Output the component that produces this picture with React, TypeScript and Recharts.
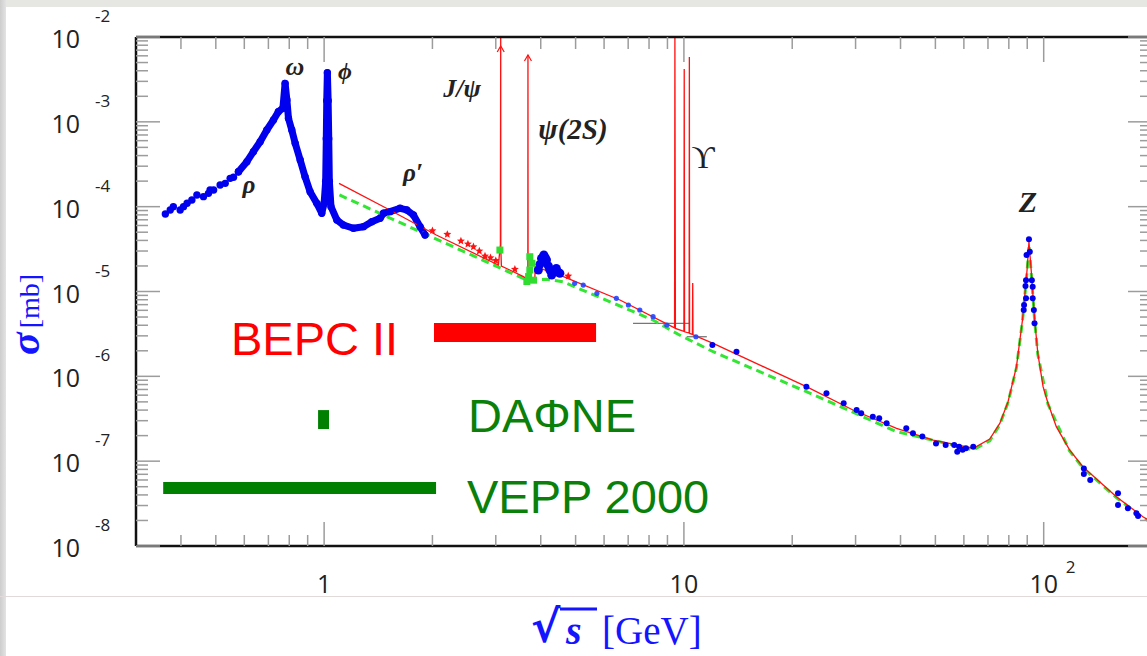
import {
  ComposedChart,
  Line,
  Scatter,
  XAxis,
  YAxis,
  ReferenceArea,
  ReferenceLine,
} from 'recharts';

// ---- axis ticks ----
const xMinor = [0.4, 0.5, 0.6, 0.7, 0.8, 0.9, 2, 3, 4, 5, 6, 7, 8, 9, 20, 30, 40, 50, 60, 70, 80, 90];
const xMajor = [1, 10, 100];
const xTicks = [...xMinor, ...xMajor].sort((a, b) => a - b);
const yExponents = [-8, -7, -6, -5, -4, -3, -2];
const minorMantissas = [2, 3, 4, 5, 6, 7, 8, 9];
const yTicks = yExponents.flatMap((e) =>
  e === -2 ? [1e-2] : [10 ** e, ...minorMantissas.map((m) => m * 10 ** e)]
);

// ---- data: [sqrt(s) GeV, sigma mb] ----
const bluePoints = [
  [0.362, 8.18e-5], [0.3735, 9.14e-5], [0.381, 1.0e-4], [0.398, 9.14e-5], [0.4066, 1.0e-4],
  [0.416, 1.096e-4], [0.429, 1.2e-4], [0.443, 1.374e-4], [0.462, 1.312e-4], [0.477, 1.436e-4],
  [0.482, 1.57e-4], [0.493, 1.57e-4], [0.514, 1.799e-4], [0.531, 1.884e-4], [0.548, 2.158e-4],
  [0.56, 2.22e-4], [0.578, 2.582e-4],
];

const blueBand = [
  [0.578, 2.582e-4], [0.61, 3.39e-4], [0.636, 4.45e-4], [0.664, 5.83e-4], [0.693, 8.02e-4],
  [0.723, 1.052e-3], [0.746, 1.318e-3], [0.768, 1.445e-3], [0.779, 2.84e-3], [0.788, 1.807e-3],
  [0.796, 1.099e-3], [0.813, 8.02e-4], [0.831, 5.58e-4], [0.858, 3.55e-4], [0.885, 2.254e-4],
  [0.914, 1.5e-4], [0.954, 1.096e-4], [0.985, 8.36e-5], [1.0, 1.096e-4], [1.01, 2.0e-4],
  [1.014, 6.31e-4], [1.017, 1.778e-3], [1.021, 3.8e-3], [1.026, 1.778e-3], [1.03, 6.31e-4],
  [1.034, 2.0e-4], [1.045, 1.0e-4], [1.085, 6.97e-5], [1.131, 6.08e-5], [1.206, 5.56e-5],
  [1.286, 5.81e-5], [1.357, 6.65e-5], [1.431, 7.29e-5], [1.462, 8.36e-5], [1.525, 8.73e-5],
  [1.626, 9.57e-5], [1.697, 9.14e-5], [1.771, 7.98e-5], [1.848, 5.81e-5], [1.908, 4.63e-5],
];

const blueCharm = [
  [3.94, 1.79e-5], [3.98, 2.09e-5], [4.02, 2.46e-5], [4.05, 2.24e-5], [4.08, 2.69e-5],
  [4.12, 2.5e-5], [4.15, 2.35e-5], [4.2, 2.0e-5], [4.24, 1.79e-5], [4.29, 1.56e-5],
  [4.36, 1.74e-5], [4.42, 1.87e-5], [4.46, 1.7e-5], [4.52, 1.64e-5],
];

const blueLight = [
  [4.97, 1.25e-5], [5.25, 1.19e-5], [5.73, 9.51e-6], [6.49, 8.3e-6], [7.01, 6.93e-6],
  [7.54, 6.05e-6], [8.21, 5.05e-6], [8.96, 4.03e-6], [10.8, 2.93e-6],
];

const blueHigh = [
  [12.0, 2.34e-6], [14.0, 1.95e-6], [21.9, 7.55e-7], [24.9, 6.31e-7], [27.8, 4.81e-7],
  [30.2, 4.01e-7], [31.1, 3.66e-7], [33.5, 3.34e-7], [34.9, 3.2e-7], [36.6, 2.79e-7],
  [41.5, 2.44e-7], [43.3, 2.13e-7], [46.0, 1.95e-7], [50.2, 1.62e-7], [53.4, 1.55e-7],
  [56.4, 1.55e-7], [57.5, 1.29e-7], [58.2, 1.48e-7], [59.5, 1.36e-7], [60.8, 1.42e-7],
  [63.7, 1.48e-7], [88.0, 6.05e-6], [88.2, 6.93e-6], [89.0, 1.16e-5], [89.3, 1.36e-5],
  [89.3, 8.32e-6], [89.6, 2.69e-5], [91.0, 4.12e-5], [91.5, 2.94e-5], [92.7, 1.36e-5],
  [93.2, 1.14e-5], [93.2, 8.32e-6], [93.9, 6.05e-6], [94.3, 4.22e-6], [129.3, 8.2e-8],
  [129.3, 7.05e-8], [134.7, 6.0e-8], [160.9, 4.18e-8], [160.9, 3.04e-8], [171.4, 2.78e-8],
  [181.0, 2.43e-8], [182.9, 2.25e-8],
];

const redCurve = [
  [1.1, 1.884e-4], [1.49, 9.57e-5], [2.05, 4.63e-5], [3.05, 2.05e-5], [3.09, 3.55e-5],
  [3.096, 1e-2], [3.098, 3.16e-5], [3.11, 2.0e-5], [3.58, 1.5e-5], [3.683, 1.38e-5],
  [3.686, 6.13e-3], [3.689, 1.35e-5], [3.85, 1.3e-5], [3.86, 1.96e-5], [4.52, 1.56e-5],
  [6.64, 7.94e-6], [9.42, 3.72e-6], [9.44, 1e-2], [9.47, 3.67e-6], [10.0, 3.39e-6],
  [10.02, 4.2e-3], [10.04, 3.35e-6], [10.34, 3.24e-6], [10.355, 5.81e-3], [10.37, 3.2e-6],
  [10.56, 3.13e-6], [10.58, 1.26e-5], [10.6, 3.09e-6], [12.06, 2.45e-6], [21.9, 7.55e-7],
  [29.5, 4.01e-7], [39.0, 2.44e-7], [49.3, 1.77e-7], [63.7, 1.42e-7], [70.8, 1.82e-7],
  [75.5, 2.79e-7], [79.6, 5.02e-7], [84.0, 1.3e-6], [87.3, 4.61e-6], [88.2, 7.24e-6],
  [89.9, 1.79e-5], [91.0, 3.86e-5], [92.3, 1.79e-5], [94.4, 4.61e-6], [96.3, 1.87e-6],
  [99.6, 7.55e-7], [102.8, 4.81e-7], [108.4, 2.55e-7], [118.0, 1.36e-7], [128.5, 8.59e-8],
  [159.2, 3.8e-8], [188.7, 2.21e-8], [200, 1.91e-8],
];

const greenCurve = [
  [1.103, 1.374e-4], [1.848, 5.07e-5], [3.66, 1.36e-5], [4.15, 1.39e-5], [4.62, 1.3e-5],
  [5.35, 9.95e-6], [8.21, 4.61e-6], [9.72, 3.07e-6], [12.06, 1.95e-6], [21.9, 6.59e-7],
  [39.0, 2.23e-7], [63.7, 1.36e-7], [70.8, 1.74e-7], [75.5, 2.69e-7], [79.6, 4.9e-7],
  [84.0, 1.26e-6], [87.3, 4.47e-6], [89.9, 1.7e-5], [91.0, 3.55e-5], [92.3, 1.7e-5],
  [94.4, 4.47e-6], [96.3, 1.82e-6], [102.8, 4.68e-7], [118.0, 1.32e-7], [128.5, 8.32e-8],
  [159.2, 3.72e-8], [188.7, 2.16e-8], [200, 1.86e-8],
];

const redStars = [
  [2.0, 5.21e-5], [2.2, 4.72e-5], [2.4, 3.94e-5], [2.51, 3.63e-5], [2.6, 3.37e-5],
  [2.7, 3.0e-5], [2.8, 2.62e-5], [2.9, 2.5e-5], [3.0, 2.31e-5], [3.39, 1.83e-5], [4.77, 1.52e-5],
];

const greenPoints = [
  [3.08, 3.08e-5], [3.73, 2.57e-5], [3.78, 2.15e-5], [3.73, 1.79e-5], [3.7, 1.5e-5],
  [3.82, 1.36e-5], [3.66, 1.31e-5],
];

const resonanceArrows = [
  [3.096, 7.83e-3], [3.686, 6.13e-3],
];

const grayLines = [
  [[7.22, 4.22e-6], [10.39, 4.22e-6]],
  [[10.19, 2.93e-6], [11.58, 2.93e-6]],
];

// collider energy ranges [x1, x2, y1, y2]
const bepcBar = [2.02, 5.7, 2.54e-6, 4.25e-6];
const dafneBar = [0.962, 1.032, 2.39e-7, 4.0e-7];
const veppBar = [0.357, 2.047, 4.1e-8, 5.68e-8];

const pts = (rows: number[][]) => rows.map(([x, y]) => ({ x, y }));

const TICK = '#9c9c9c';
const isMajor = (v: number) => Math.abs(Math.log10(v) - Math.round(Math.log10(v))) < 1e-6;
const tickFont = "'Open Sans', 'DejaVu Sans', sans-serif";

function BottomTick(props: any) {
  const { x, y, payload } = props;
  const v = payload.value;
  const major = isMajor(v);
  const e = Math.round(Math.log10(v));
  return (
    <g>
      <line x1={x} x2={x} y1={y} y2={y - (major ? 24 : 11)} stroke={TICK} strokeWidth={1.5} />
      {major && (
        <text x={x} y={y + 47} textAnchor="middle" fontFamily={tickFont} fontSize={25} fill="#222">
          {e <= 1 ? String(v) : '10'}
        </text>
      )}
      {major && e > 1 && (
        <text x={x + 22} y={y + 27} fontFamily={tickFont} fontSize={17} fill="#222">
          {e}
        </text>
      )}
    </g>
  );
}

function TopTick(props: any) {
  const { x, y, payload } = props;
  const major = isMajor(payload.value);
  return <line x1={x} x2={x} y1={y} y2={y + (major ? 25 : 12)} stroke={TICK} strokeWidth={1.5} />;
}

function LeftTick(props: any) {
  const { x, y, payload } = props;
  const major = isMajor(payload.value);
  const e = Math.round(Math.log10(payload.value));
  return (
    <g>
      <line x1={x} x2={x + (major ? 24 : 12)} y1={y} y2={y} stroke={TICK} strokeWidth={1.5} />
      {major && (
        <text x={x - 56} y={y + 11} textAnchor="end" fontFamily={tickFont} fontSize={25} fill="#222">
          10
        </text>
      )}
      {major && (
        <text x={x - 41} y={y - 15} fontFamily={tickFont} fontSize={17} fill="#222">
          {e}
        </text>
      )}
    </g>
  );
}

function RightTick(props: any) {
  const { x, y, payload } = props;
  const major = isMajor(payload.value);
  return <line x1={x} x2={x - (major ? 24 : 12)} y1={y} y2={y} stroke={TICK} strokeWidth={1.5} />;
}

const star = (cx: number, cy: number, r: number) => {
  let d = '';
  for (let i = 0; i < 10; i++) {
    const a = (Math.PI / 5) * i - Math.PI / 2;
    const rr = i % 2 === 0 ? r : r * 0.45;
    d += (i === 0 ? 'M' : 'L') + (cx + rr * Math.cos(a)).toFixed(2) + ',' + (cy + rr * Math.sin(a)).toFixed(2);
  }
  return d + 'Z';
};

const dot = (r: number, fill: string, opacity = 1) => (p: any) =>
  <circle cx={p.cx} cy={p.cy} r={r} fill={fill} fillOpacity={opacity} />;

const axisLine = { stroke: '#111', strokeWidth: 2.5 };
const ids = { xAxisId: 'b', yAxisId: 'l' };

export default function App() {
  return (
    <div style={{ position: 'absolute', left: 0, top: 0, width: 1147, height: 656, overflow: 'hidden', background: '#fff' }}>
      <div style={{ position: 'absolute', left: 0, top: 0, width: 1147, height: 7, background: '#e6e6e2' }} />
      <div style={{ position: 'absolute', left: 0, top: 0, width: 6, height: 656, background: 'linear-gradient(90deg,#cdcdcd,#e3e3e3)' }} />
      <div style={{ position: 'absolute', left: 0, top: 596, width: 1147, height: 1, background: '#e2d9d9' }} />
      <div style={{ position: 'absolute', left: 0, top: 0 }}>
        <ComposedChart width={1160} height={656} margin={{ top: 0, right: 0, bottom: 0, left: 0 }}>
          <XAxis
            xAxisId="b" dataKey="x" type="number" scale="log" domain={[0.3, 200]} allowDataOverflow
            ticks={xTicks} interval={0} tickSize={0} tickMargin={0} tickLine={false}
            tick={(p: any) => <BottomTick {...p} />} height={110} axisLine={axisLine}
          />
          <XAxis
            xAxisId="t" orientation="top" dataKey="x" type="number" scale="log" domain={[0.3, 200]} allowDataOverflow
            ticks={xTicks} interval={0} tickSize={0} tickMargin={0} tickLine={false}
            tick={(p: any) => <TopTick {...p} />} height={37} axisLine={axisLine}
          />
          <YAxis
            yAxisId="l" dataKey="y" type="number" scale="log" domain={[1e-8, 1e-2]} allowDataOverflow
            ticks={yTicks} interval={0} tickSize={0} tickMargin={0} tickLine={false}
            tick={(p: any) => <LeftTick {...p} />} width={136} axisLine={axisLine}
          />
          <YAxis
            yAxisId="r" orientation="right" dataKey="y" type="number" scale="log" domain={[1e-8, 1e-2]} allowDataOverflow
            ticks={yTicks} interval={0} tickSize={0} tickMargin={0} tickLine={false}
            tick={(p: any) => <RightTick {...p} />} width={8} axisLine={axisLine}
          />

          {grayLines.map((s, i) => (
            <ReferenceLine
              key={i} {...ids}
              segment={[{ x: s[0][0], y: s[0][1] }, { x: s[1][0], y: s[1][1] }]}
              stroke="#777" strokeWidth={1.3}
            />
          ))}

          <Line {...ids} data={pts(blueBand)} dataKey="y" stroke="#0000ee" strokeWidth={7}
            strokeLinejoin="round" strokeLinecap="round" dot={false} isAnimationActive={false} />
          <Scatter {...ids} data={pts([...bluePoints, ...blueBand])} dataKey="y" shape={dot(3.7, '#0000ee')} isAnimationActive={false} />
          <Scatter {...ids} data={pts(blueCharm)} dataKey="y" shape={dot(4.5, '#0000ee')} isAnimationActive={false} />
          <Scatter {...ids} data={pts(blueLight)} dataKey="y" shape={dot(2.6, '#2244ff', 0.9)} isAnimationActive={false} />
          <Scatter {...ids} data={pts(blueHigh)} dataKey="y" shape={dot(3, '#0000ee')} isAnimationActive={false} />
          <Scatter {...ids} data={pts(greenPoints)} dataKey="y"
            shape={(p: any) => <rect x={p.cx - 3.5} y={p.cy - 3.5} width={7} height={7} fill="#2fdc2f" />}
            isAnimationActive={false} />

          <Line {...ids} data={pts(greenCurve)} dataKey="y" stroke="#33e633" strokeWidth={3}
            strokeDasharray="8 5" dot={false} isAnimationActive={false} />
          <Line {...ids} data={pts(redCurve)} dataKey="y" stroke="#ff1111" strokeWidth={1.3}
            dot={false} isAnimationActive={false} />

          <Scatter xAxisId="t" yAxisId="r" data={pts(redStars)} dataKey="y"
            shape={(p: any) => <path d={star(p.cx, p.cy, 4.2)} fill="#ff1111" />} isAnimationActive={false} />
          <Scatter {...ids} data={pts(resonanceArrows)} dataKey="y"
            shape={(p: any) => (
              <path d={`M${p.cx - 3.5},${p.cy + 6} L${p.cx},${p.cy} L${p.cx + 3.5},${p.cy + 6}`}
                stroke="#ff1111" strokeWidth={1.2} fill="none" />
            )}
            isAnimationActive={false} />

          <ReferenceArea {...ids} x1={bepcBar[0]} x2={bepcBar[1]} y1={bepcBar[2]} y2={bepcBar[3]}
            fill="#ff0000" fillOpacity={1} stroke="none" />
          <ReferenceArea {...ids} x1={dafneBar[0]} x2={dafneBar[1]} y1={dafneBar[2]} y2={dafneBar[3]}
            fill="#008000" fillOpacity={1} stroke="none" />
          <ReferenceArea {...ids} x1={veppBar[0]} x2={veppBar[1]} y1={veppBar[2]} y2={veppBar[3]}
            fill="#008000" fillOpacity={1} stroke="none" />
        </ComposedChart>
      </div>

      <svg width={1147} height={656} style={{ position: 'absolute', left: 0, top: 0, pointerEvents: 'none' }}>
        <g fontFamily="'Liberation Serif', 'DejaVu Serif', serif" fill="#222" fontStyle="italic" fontWeight="bold">
          <text x={295} y={75} fontSize={26} textAnchor="middle">ω</text>
          <text x={345} y={79} fontSize={24} textAnchor="middle">ϕ</text>
          <text x={249} y={193} fontSize={25} textAnchor="middle">ρ</text>
          <text x={413} y={181} fontSize={25} textAnchor="middle">ρ′</text>
          <text x={462} y={97} fontSize={26} textAnchor="middle">J/ψ</text>
          <text x={573} y={139} fontSize={29} textAnchor="middle">ψ(2S)</text>
          <text x={703} y={168} fontSize={32} textAnchor="middle" fontStyle="normal" fontWeight="normal">ϒ</text>
          <text x={1028} y={212} fontSize={30} textAnchor="middle">Z</text>
        </g>
        <g fontFamily="'Liberation Sans', Arial, sans-serif" fontSize={47}>
          <text x={231} y={355} fill="#ff0000">BEPC II</text>
          <text x={468} y={432} fill="#0a800a">DAΦNE</text>
          <text x={467} y={513} fill="#0a800a">VEPP 2000</text>
        </g>
        <g fontFamily="'Liberation Serif', 'DejaVu Serif', serif" fill="#1414ff">
          <text transform="translate(39,355) rotate(-90)">
            <tspan fontWeight="bold" fontStyle="italic" fontSize={42}>σ</tspan>
            <tspan fontSize={28} dx={4}>[mb]</tspan>
          </text>
          <text y={642}>
            <tspan x={531} fontSize={44} fontWeight="bold" fontFamily="'DejaVu Sans', sans-serif">√</tspan>
            <tspan x={566} y={644} fontSize={40} fontWeight="bold" fontStyle="italic">s</tspan>
            <tspan x={602} y={644} fontSize={39}>[GeV]</tspan>
          </text>
          <line x1={560} x2={597} y1={609} y2={609} stroke="#1414ff" strokeWidth={3} />
        </g>
      </svg>
    </div>
  );
}
